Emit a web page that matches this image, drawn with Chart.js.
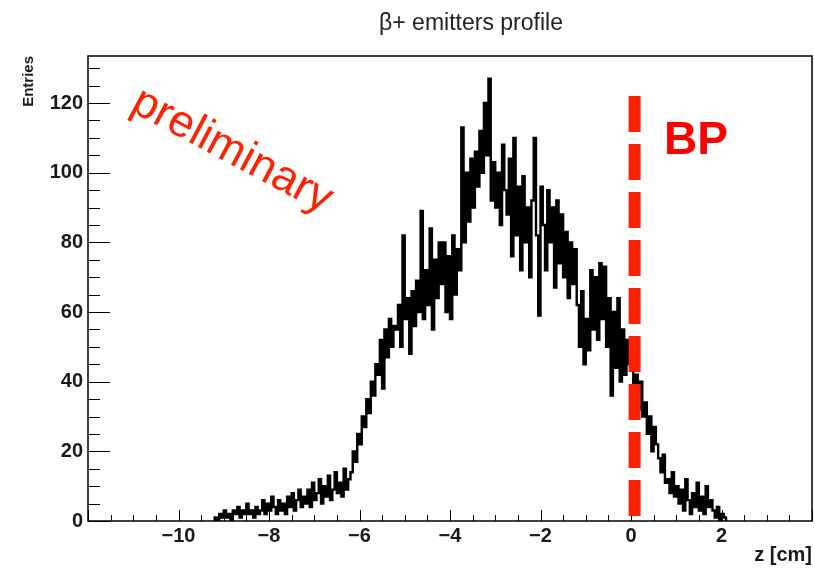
<!DOCTYPE html>
<html>
<head>
<meta charset="utf-8">
<script src="https://cdn.jsdelivr.net/npm/chart.js@4.4.1/dist/chart.umd.min.js"></script>
<style>
html,body{margin:0;padding:0;background:#fff;}
#wrap{width:815px;height:568px;position:relative;}
</style>
</head>
<body>
<div id="wrap"><canvas id="c" width="815" height="568"></canvas></div>
<script>
// ---- texts ----
const chartTitle = 'β+ emitters profile';
const xAxisTitle = 'z [cm]';
const yAxisTitle = 'Entries';
const watermark = 'preliminary';
const bpLabel = 'BP';

// ---- axes ----
const xRange = [-12, 4];
const yRange = [0, 133.5];
const xMajorTicks = [-12, -10, -8, -6, -4, -2, 0, 2, 4];
const xTickLabels = ['', '−10', '−8', '−6', '−4', '−2', '0', '2', ''];
const yMajorTicks = [0, 20, 40, 60, 80, 100, 120];
const yTickLabels = ['0', '20', '40', '60', '80', '100', '120'];
const xMinorStep = 0.5;
const yMinorStep = 5;

// ---- histogram (bin contents, bin width 0.05 cm from z = -9.2) ----
const binStart = -9.2;
const binWidth = 0.05;
const countsTail1 = [1,0,2,1,3,1,2,0,3,2,4,1,3,2,5,2,3,1,4,2];            // -9.2 .. -8.2
const countsTail2 = [3,6,2,5,3,7,4,2,6,3,5,2,7,4,8,3,6,9,4,7];            // -8.2 .. -7.2
const countsRise1 = [5,9,4,11,6,8,12,5,10,7,13,6,9,14,8,11,7,15,9,12];     // -7.2 .. -6.2
const countsRise2 = [14,20,17,25,22,30,27,35,31,40,36,45,42,52,38,55,47,58,50,56]; // -6.2 .. -5.2
const countsShoulder = [55,62,50,82,58,64,48,66,56,69,60,89,58,72,62,84,55,75,64,80]; // -5.2 .. -4.2
const countsPeak1 = [68,80,60,76,58,82,65,78,72,113,80,100,86,104,90,106,96,112,100,120]; // -4.2 .. -3.2
const countsPeak2 = [105,127,92,103,90,100,85,108,95,88,104,76,110,82,96,72,99,80,90,70]; // -3.2 .. -2.2
const countsFall1 = [92,110,82,59,96,85,72,95,80,90,67,92,74,88,70,83,64,80,68,78];   // -2.2 .. -1.2
const countsFall2 = [62,50,66,45,58,49,72,55,70,52,74,58,73,50,64,36,60,44,64,40];   // -1.2 .. -0.2
const countsEdge1 = [55,42,52,45,50,38,42,32,40,30,34,25,30,20,27,22,18,14,19,11];   // -0.2 .. 0.8
const countsEdge2 = [12,8,14,7,10,5,9,3,12,6,2,8,4,11,3,7,2,10,4,6];                // 0.8 .. 1.8
const countsEdge3 = [3,1,4,0,2,1];                                                  // 1.8 .. 2.1

// ---- Bragg peak marker ----
const bpPosition = 0.08;
const bpTop = 122;

const counts = [].concat(countsTail1, countsTail2, countsRise1, countsRise2, countsShoulder,
  countsPeak1, countsPeak2, countsFall1, countsFall2, countsEdge1, countsEdge2, countsEdge3);

const points = [{x: binStart, y: 0}];
counts.forEach((v, i) => points.push({x: binStart + i * binWidth, y: v}));
points.push({x: binStart + counts.length * binWidth, y: 0});

const FONT = "'Liberation Sans', Arial, Helvetica, sans-serif";

const rootDecor = {
  id: 'rootDecor',
  afterDatasetsDraw(chart) {
    const {ctx, chartArea: a, scales: {x, y}} = chart;
    ctx.save();
    // inner ticks
    ctx.strokeStyle = '#000';
    ctx.lineWidth = 1;
    const nx = Math.round((xRange[1] - xRange[0]) / xMinorStep);
    for (let k = 0; k <= nx; k++) {
      const v = xRange[0] + k * xMinorStep;
      const px = Math.round(x.getPixelForValue(v)) + 0.5;
      const len = (k % 4 === 0) ? 11 : 6;
      ctx.beginPath(); ctx.moveTo(px, a.bottom); ctx.lineTo(px, a.bottom - len); ctx.stroke();
    }
    for (let k = 0; k * yMinorStep <= yRange[1]; k++) {
      const v = k * yMinorStep;
      const py = Math.round(y.getPixelForValue(v)) + 0.5;
      const len = (k % 4 === 0) ? 22 : 12;
      ctx.beginPath(); ctx.moveTo(a.left, py); ctx.lineTo(a.left + len, py); ctx.stroke();
    }
    // BP dashed line
    const bx = x.getPixelForValue(bpPosition);
    ctx.strokeStyle = '#ff2200';
    ctx.lineWidth = 12;
    ctx.setLineDash([36, 12]);
    ctx.beginPath();
    ctx.moveTo(bx, y.getPixelForValue(bpTop));
    ctx.lineTo(bx, a.bottom - 3);
    ctx.stroke();
    ctx.setLineDash([]);
    // frame
    ctx.strokeStyle = '#000';
    ctx.lineWidth = 1.5;
    ctx.strokeRect(a.left, a.top, a.right - a.left, a.bottom - a.top);
    // title
    ctx.fillStyle = '#222';
    ctx.font = "23px " + FONT;
    ctx.textAlign = 'center';
    ctx.textBaseline = 'alphabetic';
    ctx.fillText(chartTitle, 471, 30);
    // BP label
    ctx.fillStyle = '#ff0000';
    ctx.font = "bold 46px " + FONT;
    ctx.textAlign = 'left';
    ctx.fillText(bpLabel, 664, 154);
    // watermark
    ctx.translate(232, 151);
    ctx.rotate(28 * Math.PI / 180);
    ctx.fillStyle = '#ff2200';
    ctx.font = "45px " + FONT;
    ctx.textAlign = 'center';
    ctx.textBaseline = 'middle';
    ctx.fillText(watermark, 0, 0);
    ctx.restore();
  }
};

new Chart(document.getElementById('c'), {
  type: 'line',
  data: {
    datasets: [{
      label: 'z',
      data: points,
      stepped: 'before',
      borderColor: '#000',
      borderWidth: 2.4,
      pointRadius: 0,
      fill: false,
      tension: 0
    }]
  },
  options: {
    responsive: false,
    animation: false,
    devicePixelRatio: 1,
    layout: {padding: {top: 56, right: 3, bottom: 0, left: 0}},
    plugins: {legend: {display: false}, title: {display: false}, tooltip: {enabled: false}},
    scales: {
      x: {
        type: 'linear',
        min: xRange[0], max: xRange[1],
        grid: {display: false, drawTicks: false},
        border: {display: false},
        ticks: {
          stepSize: 2, autoSkip: false, maxRotation: 0, padding: 3,
          color: '#1a1a1a',
          font: {family: FONT, size: 20, weight: 'bold'},
          callback: (v) => { const i = xMajorTicks.indexOf(v); return i >= 0 ? xTickLabels[i] : ''; }
        },
        title: {display: true, text: xAxisTitle, align: 'end', color: '#1a1a1a',
                font: {family: FONT, size: 20, weight: 'bold'}, padding: {top: 0, bottom: 1}},
        afterFit(s) { s.height = 47; }
      },
      y: {
        type: 'linear',
        min: yRange[0], max: yRange[1],
        grid: {display: false, drawTicks: false},
        border: {display: false},
        ticks: {
          stepSize: 20, autoSkip: false, padding: 5, includeBounds: false,
          color: '#1a1a1a',
          font: {family: FONT, size: 20, weight: 'bold'},
          callback: (v) => { const i = yMajorTicks.indexOf(v); return i >= 0 ? yTickLabels[i] : ''; }
        },
        title: {display: true, text: yAxisTitle, align: 'end', color: '#1a1a1a',
                font: {family: FONT, size: 15, weight: 'bold'}, padding: {top: 20, bottom: 0}},
        afterFit(s) { s.width = 88; }
      }
    }
  },
  plugins: [rootDecor]
});
</script>
</body>
</html>
